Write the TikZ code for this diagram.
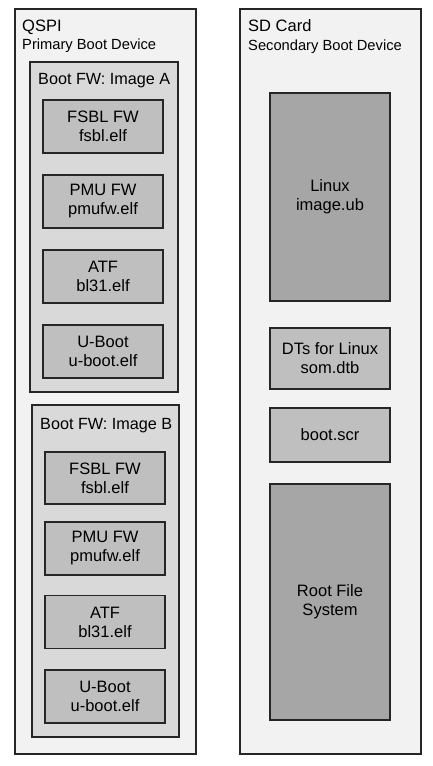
\documentclass[tikz,border=0pt]{standalone}
\usepackage{fontspec}
\setmainfont{Liberation Sans}
\usetikzlibrary{positioning}
\definecolor{devfill}{HTML}{F2F2F2}
\definecolor{imgfill}{HTML}{D9D9D9}
\definecolor{filefill}{HTML}{BFBFBF}
\definecolor{bigfill}{HTML}{A6A6A6}
\definecolor{edge}{HTML}{262626}
\tikzset{
  device/.style={draw=edge, line width=1.5pt, fill=devfill,
    inner sep=0pt, minimum width=181pt, minimum height=745pt},
  image/.style={draw=edge, line width=1.5pt, fill=imgfill, inner sep=0pt},
  file/.style={draw=edge, line width=1.8pt, fill=filefill, inner sep=0pt,
    minimum width=120pt, align=center, font=\fontsize{16.5}{19}\selectfont},
  bigfile/.style={file, fill=bigfill},
  title/.style={anchor=base west, inner sep=0pt, font=\fontsize{16.5}{18}\selectfont},
  subtitle/.style={anchor=base west, inner sep=0pt, font=\fontsize{14.7}{16}\selectfont},
}
\begin{document}
\begin{tikzpicture}[x=1pt, y=-1pt]
  \useasboundingbox (0,0) rectangle (432,766);

  % Boot devices
  \node[device] (qspi)   at (105.5,381.5) {};
  \node[device] (sdcard) at (330.5,381.5) {};
  \node[title]    (qspiname) at (22,31.5) {QSPI};
  \node[subtitle] (qspirole) at (22,49.5) {Primary Boot Device};
  \node[title]    (sdname)   at (248,31.5) {SD Card};
  \node[subtitle] (sdrole)   at (248,50) {Secondary Boot Device};

  % QSPI: two boot images
  \node[image, minimum width=148pt, minimum height=330pt] (imgA) at (104,227) {};
  \node[image, minimum width=147pt, minimum height=332pt] (imgB) at (105.5,571) {};
  \node[title, font=\fontsize{16.2}{18}\selectfont] (imgAname) at (38,84) {Boot FW: Image A};
  \node[title, font=\fontsize{16.2}{18}\selectfont] (imgBname) at (40,429) {Boot FW: Image B};

  % Image A
  \node[file, minimum height=53pt] (fsblA)  at (103,126.5) {FSBL FW\\fsbl.elf};
  \node[file, minimum height=53pt] (pmuA)   at (103,201.5) {PMU FW\\pmufw.elf};
  \node[file, minimum height=53pt] (atfA)   at (103,276.5) {ATF\\bl31.elf};
  \node[file, minimum height=53pt] (ubootA) at (103,351.5) {U-Boot\\u-boot.elf};

  % Image B
  \node[file, minimum height=52pt] (fsblB)  at (105,478) {FSBL FW\\fsbl.elf};
  \node[file, minimum height=53pt] (pmuB)   at (105,548.5) {PMU FW\\pmufw.elf};
  \node[file, minimum height=53pt] (atfB)   at (105,622) {ATF\\bl31.elf};
  \node[file, minimum height=53pt] (ubootB) at (105,696.5) {U-Boot\\u-boot.elf};

  % SD card contents
  \node[bigfile, minimum height=208pt] (linux)   at (330,197) {Linux\\image.ub};
  \node[file, minimum height=61pt]     (dtb)     at (330,358.5) {DTs for Linux\\som.dtb};
  \node[file, minimum height=54pt]     (bootscr) at (330,435) {boot.scr};
  \node[bigfile, minimum height=236pt] (rootfs)  at (330,602) {Root File\\System};
\end{tikzpicture}
\end{document}
